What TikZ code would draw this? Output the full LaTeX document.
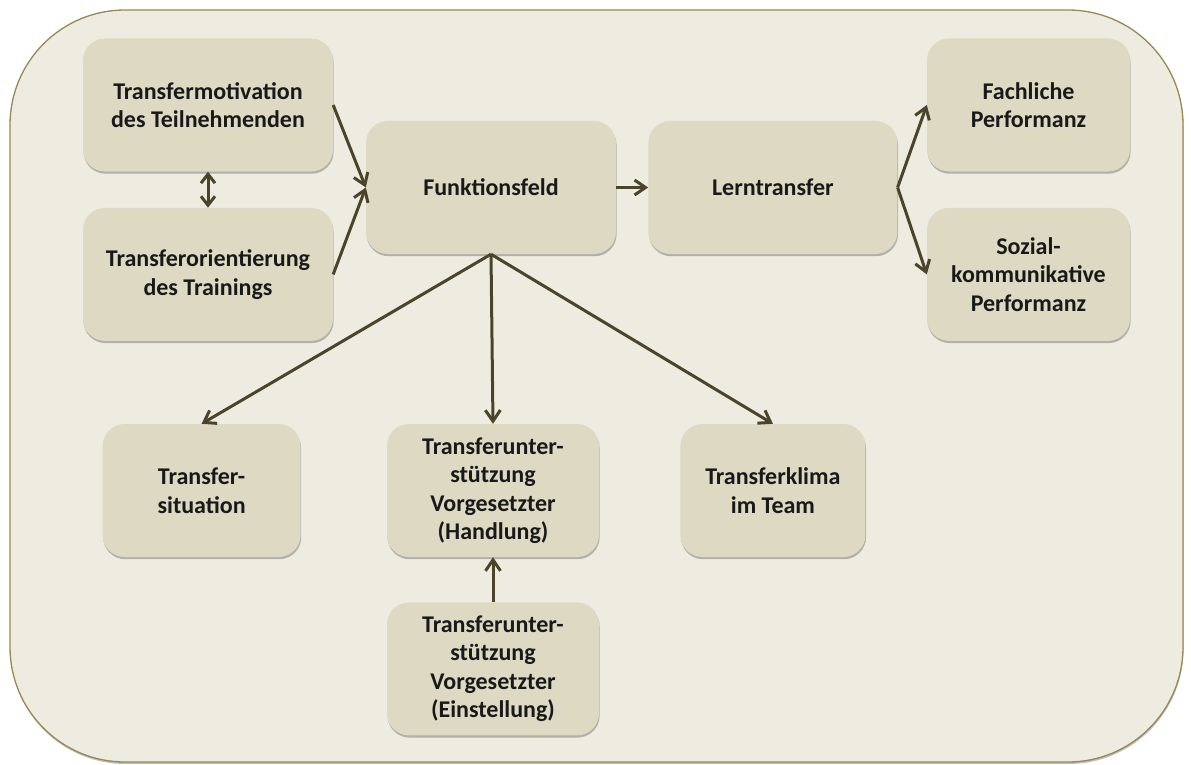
\documentclass[tikz,border=0pt]{standalone}
\usepackage{fontspec}
\setmainfont{Carlito}
\usetikzlibrary{arrows.meta, positioning, shadows}
\definecolor{tanback}{HTML}{EEECE1}
\definecolor{tanbox}{HTML}{DDD9C3}
\definecolor{tanline}{HTML}{948A54}
\definecolor{tanarrow}{HTML}{4A452A}

\begin{document}
\begin{tikzpicture}[x=1pt, y=-1pt]

    \tikzstyle{field} = [rectangle, rounded corners=22pt, fill=tanbox, minimum height=133pt, align=center, text=black!90, font=\fontsize{24}{28.5}\selectfont\bfseries, drop shadow={shadow xshift=0.6pt, shadow yshift=-2.2pt, opacity=0.25, fill=black}]
    \tikzstyle{arrow} = [line width=3pt, color=tanarrow, -{Straight Barb[length=11pt, width=15pt]}]
    \tikzstyle{twoway} = [line width=3pt, color=tanarrow, {Straight Barb[length=9pt, width=14pt]}-{Straight Barb[length=9pt, width=14pt]}]

    \useasboundingbox (0,0) rectangle (1191,765);
    \draw [tanline, line width=1.3pt, fill=tanback, rounded corners=115pt, drop shadow={shadow xshift=0.5pt, shadow yshift=-2pt, opacity=0.25, fill=black}] (10,10) rectangle (1183,762);

    \node (motiv) [field, minimum width=250pt] at (208,105) {Transfermotivation\\des Teilnehmenden};
    \node (orient) [field, minimum width=250pt, below=36pt of motiv] {Transferorientierung\\des Trainings};
    \node (funk) [field, minimum width=250pt] at (491,187.5) {Funktionsfeld};
    \node (lern) [field, minimum width=249pt, right=32pt of funk] {Lerntransfer};
    \node (fach) [field, minimum width=203pt] at (1028.5,105) {Fachliche\\Performanz};
    \node (sozial) [field, minimum width=203pt, below=36pt of fach] {Sozial-\\kommunikative\\Performanz};

    \node (hand) [field, minimum width=212pt] at (493,490.5) {Transferunter-\\stützung\\Vorgesetzter\\(Handlung)};
    \node (sit) [field, minimum width=198pt, left=86pt of hand] {Transfer-\\situation};
    \node (klima) [field, minimum width=185pt, right=81pt of hand] {Transferklima\\im Team};
    \node (einst) [field, minimum width=212pt, below=45pt of hand] {Transferunter-\\stützung\\Vorgesetzter\\(Einstellung)};

    \draw [arrow] (motiv.east) -- (funk.west);
    \draw [arrow] (orient.east) -- (funk.west);
    \draw [twoway] (motiv) -- (orient);
    \draw [arrow] (funk) -- (lern);
    \draw [arrow] (lern.east) -- (fach.west);
    \draw [arrow] (lern.east) -- (sozial.west);

    \draw [arrow] (funk.south) -- (sit.north);
    \draw [arrow] (funk.south) -- (hand.north);
    \draw [arrow] (funk.south) -- (klima.north);
    \draw [arrow] (einst) -- (hand);

\end{tikzpicture}
\end{document}
